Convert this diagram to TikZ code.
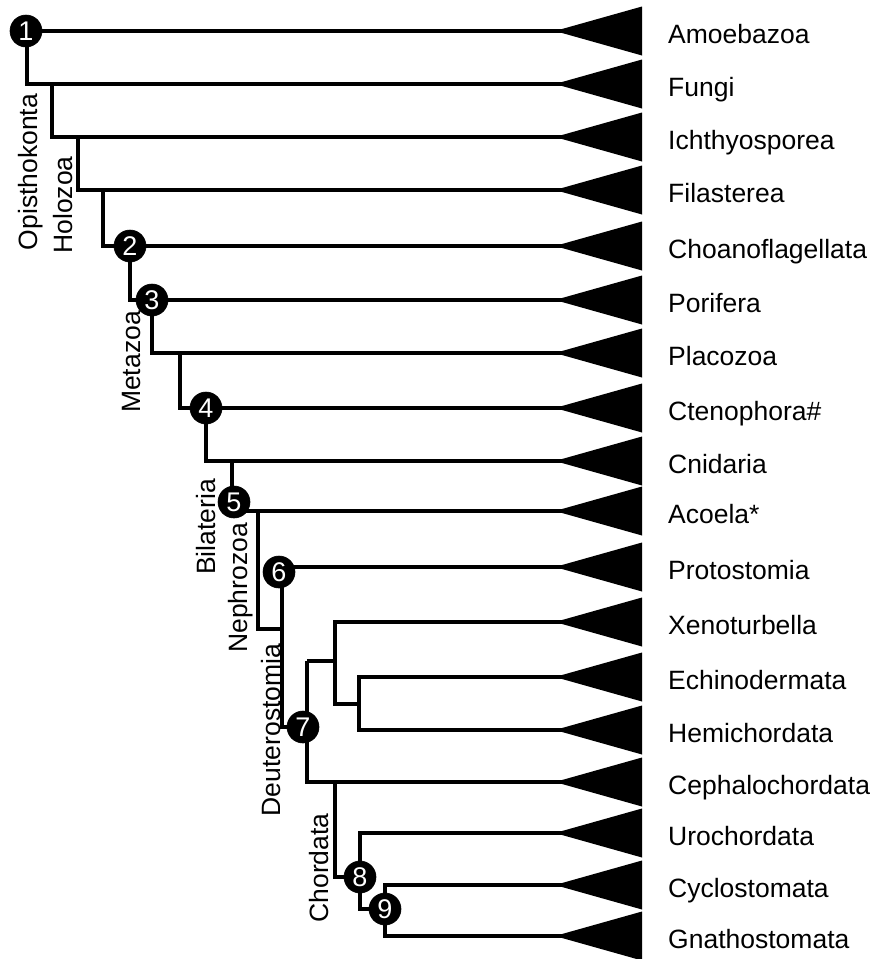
\documentclass[tikz,border=0pt]{standalone}
\usepackage{fontspec}
\setmainfont{Liberation Sans}
\begin{document}
\begin{tikzpicture}[x=1pt,y=-1pt,
  branch/.style={line width=3.3pt, line join=miter},
  num/.style={circle, fill=black, draw=black, line width=0.6pt, text=white, minimum size=32pt, inner sep=0pt, font=\fontsize{27}{27}\selectfont},
  taxon/.style={anchor=base west, inner sep=0pt, font=\fontsize{26.5}{30}\selectfont},
  cladename/.style={anchor=base, rotate=90, inner sep=0pt, font=\fontsize{26.5}{30}\selectfont},
  clade/.pic={\fill (-1,-1.7) -- (80,-24.5) -- (80,24.5) -- (-1,1.7) -- cycle;}
]
\useasboundingbox (0,0) rectangle (877,959);

% tips and taxon labels
\foreach \i/\y/\name in {1/31/Amoebazoa, 2/84/Fungi, 3/137/Ichthyosporea, 4/190/Filasterea,
  5/246/Choanoflagellata, 6/300/Porifera, 7/353/Placozoa, 8/408/Ctenophora\#,
  9/461/Cnidaria, 10/511/Acoela*, 11/567/Protostomia, 12/622/Xenoturbella,
  13/677/Echinodermata, 14/730/Hemichordata, 15/782/Cephalochordata,
  16/833/Urochordata, 17/885/Cyclostomata, 18/936/Gnathostomata}{
  \coordinate (t\i) at (562,\y);
  \pic at (t\i) {clade};
  \node[taxon] (L\i) at (668,\y+12) {\name};
}

% junctions
\coordinate (c1) at (27,31);
\coordinate (j2) at (52,84);
\coordinate (j3) at (78,137);
\coordinate (j4) at (103,190);
\coordinate (c2) at (130,246);
\coordinate (c3) at (152,300);
\coordinate (j5) at (180,353);
\coordinate (c4) at (206,408);
\coordinate (j6) at (232,461);
\coordinate (c5) at (234,502);
\coordinate (j7) at (258,511);
\coordinate (j8) at (282,629);
\coordinate (c6) at (279,572);
\coordinate (k7) at (282,727);
\coordinate (c7) at (303,727);
\coordinate (j10) at (307,661);
\coordinate (j11) at (307,782);
\coordinate (m0) at (335,661);
\coordinate (m1) at (335,704);
\coordinate (m2) at (359,704);
\coordinate (m3) at (335,782);
\coordinate (c8) at (360,877);
\coordinate (m4) at (360,909);
\coordinate (c9) at (385,909);

% branches
\draw[branch] (t1) -- (c1) |- (t2);
\draw[branch] (j2) |- (t3);
\draw[branch] (j3) |- (t4);
\draw[branch] (j4) |- (t5);
\draw[branch] (c2) |- (t6);
\draw[branch] (c3) |- (t7);
\draw[branch] (j5) |- (t8);
\draw[branch] (c4) |- (t9);
\draw[branch] (j6) |- (t10);
\draw[branch] (j7) |- (j8);
\draw[branch] (t11) -| (k7) -- (c7);
\draw[branch] (j10) -- (j11) -- (t15);
\draw[branch] (j10) -- (m0);
\draw[branch] (t12) -| (m1) -- (m2);
\draw[branch] (t13) -| (m2) |- (t14);
\draw[branch] (m3) |- (c8);
\draw[branch] (t16) -| (c8) -- (m4) -- (c9);
\draw[branch] (t17) -| (c9) |- (t18);

% numbered nodes
\node[num] (n1) at (26,31) {1};
\node[num] (n2) at (c2) {2};
\node[num] (n3) at (c3) {3};
\node[num] (n4) at (c4) {4};
\node[num] (n5) at (c5) {5};
\node[num] (n6) at (c6) {6};
\node[num] (n7) at (c7) {7};
\node[num] (n8) at (c8) {8};
\node[num] (n9) at (c9) {9};

% clade names
\node[cladename] (Opi) at (37,172) {Opisthokonta};
\node[cladename] (Hol) at (72,205) {Holozoa};
\node[cladename] (Met) at (140,362) {Metazoa};
\node[cladename] (Bil) at (215,527) {Bilateria};
\node[cladename] (Nep) at (247,588) {Nephrozoa};
\node[cladename] (Deu) at (280,730) {Deuterostomia};
\node[cladename] (Cho) at (328,868) {Chordata};
\end{tikzpicture}
\end{document}
